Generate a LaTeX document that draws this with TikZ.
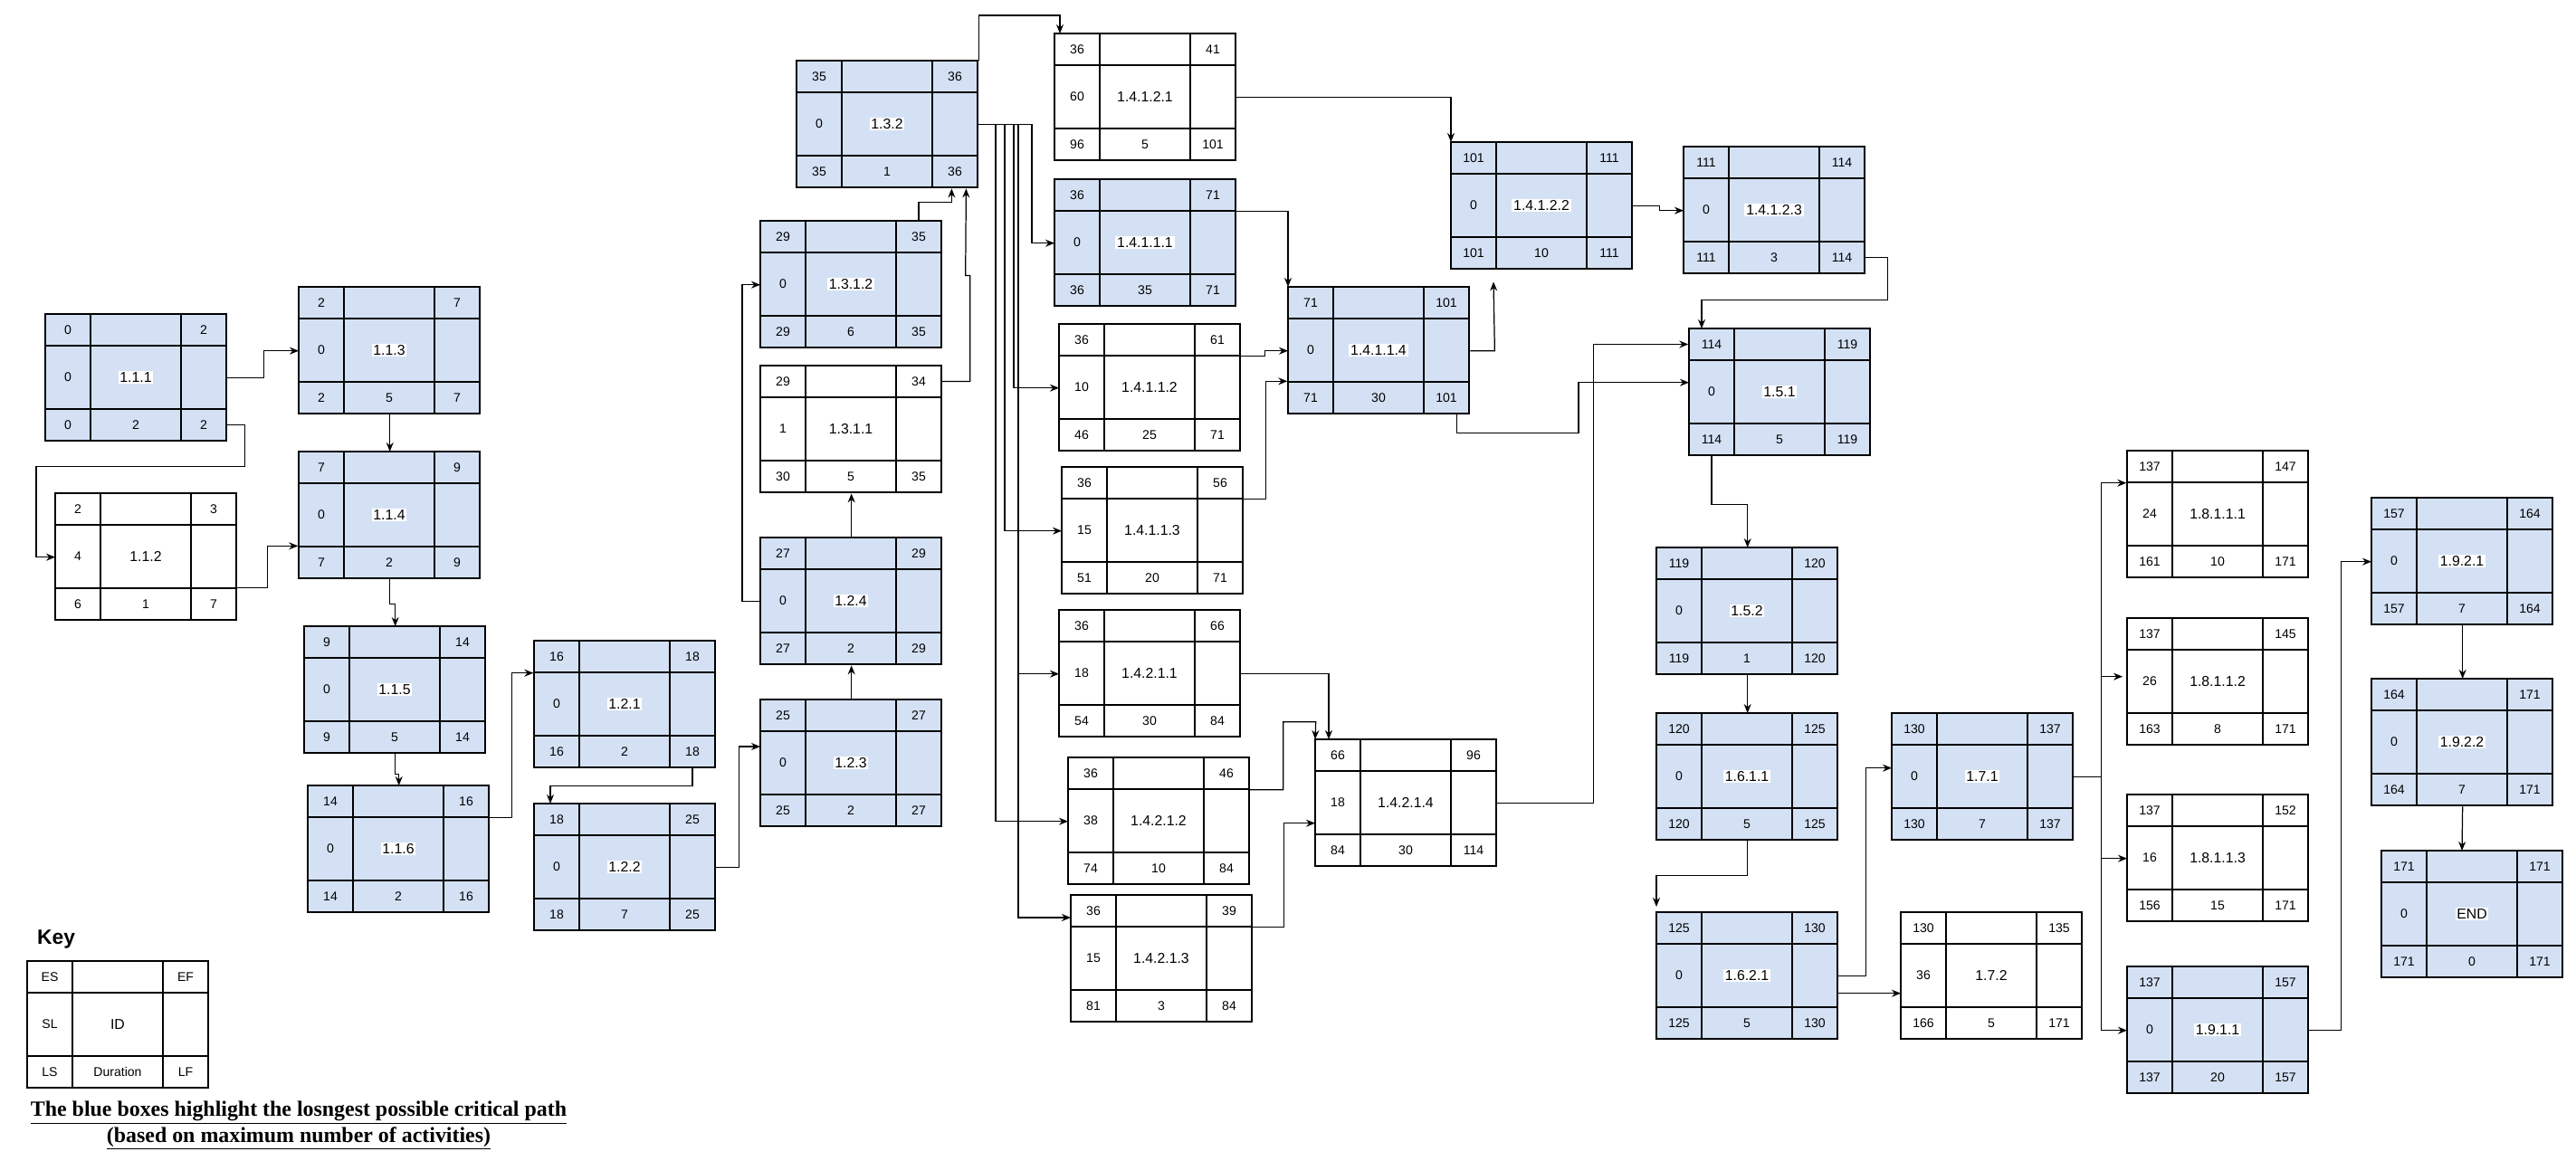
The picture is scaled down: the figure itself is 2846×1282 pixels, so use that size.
\documentclass[tikz,border=0pt]{standalone}
\usepackage{fontspec}
\setmainfont{Liberation Sans}
\newfontfamily\capfont{Liberation Serif}
\usepackage{tikz}
\usetikzlibrary{positioning,arrows.meta,calc}
\usepackage{xcolor}
\definecolor{blueFill}{RGB}{212,225,245}

\begin{document}
\begin{tikzpicture}[x=0.02cm,y=-0.02cm,>={Stealth[length=2mm,width=1.6mm]},
  actbox/.style={draw,line width=0.8pt,minimum width=4cm,minimum height=2.8cm,anchor=north west,inner sep=0pt},
  cellS/.style={draw,line width=0.8pt,minimum width=1cm,minimum height=0.7cm,inner sep=0pt,font=\fontsize{8}{9}\selectfont},
  cellW/.style={cellS,minimum width=2cm},
  cellT/.style={cellS,minimum height=1.4cm},
  cellC/.style={cellS,minimum width=2cm,minimum height=1.4cm},
  idlbl/.style={fill=white,inner sep=1pt,font=\fontsize{9}{10}\selectfont},
  conn/.style={->,line width=0.7pt}]
\useasboundingbox (0,0) rectangle (2846,1282);
\foreach \nm/\px/\py/\fc/\vES/\vEF/\vSL/\vID/\vLS/\vDU/\vLF in {
  b111/50/347/blueFill/0/2/0/1.1.1/0/2/2,
  b112/61/545/white/2/3/4/1.1.2/6/1/7,
  b113/330/317/blueFill/2/7/0/1.1.3/2/5/7,
  b114/330/499/blueFill/7/9/0/1.1.4/7/2/9,
  b115/336/692/blueFill/9/14/0/1.1.5/9/5/14,
  b116/340/868/blueFill/14/16/0/1.1.6/14/2/16,
  b121/590/708/blueFill/16/18/0/1.2.1/16/2/18,
  b122/590/888/blueFill/18/25/0/1.2.2/18/7/25,
  b123/840/773/blueFill/25/27/0/1.2.3/25/2/27,
  b124/840/594/blueFill/27/29/0/1.2.4/27/2/29,
  b1311/840/404/white/29/34/1/1.3.1.1/30/5/35,
  b1312/840/244/blueFill/29/35/0/1.3.1.2/29/6/35,
  b132/880/67/blueFill/35/36/0/1.3.2/35/1/36,
  b14121/1165/37/white/36/41/60/1.4.1.2.1/96/5/101,
  b14111/1165/198/blueFill/36/71/0/1.4.1.1.1/36/35/71,
  b14112/1170/358/white/36/61/10/1.4.1.1.2/46/25/71,
  b14113/1173/516/white/36/56/15/1.4.1.1.3/51/20/71,
  b14211/1170/674/white/36/66/18/1.4.2.1.1/54/30/84,
  b14212/1180/837/white/36/46/38/1.4.2.1.2/74/10/84,
  b14213/1183/989/white/36/39/15/1.4.2.1.3/81/3/84,
  b14114/1423/317/blueFill/71/101/0/1.4.1.1.4/71/30/101,
  b14214/1453/817/white/66/96/18/1.4.2.1.4/84/30/114,
  b14122/1603/157/blueFill/101/111/0/1.4.1.2.2/101/10/111,
  b14123/1860/162/blueFill/111/114/0/1.4.1.2.3/111/3/114,
  b151/1866/363/blueFill/114/119/0/1.5.1/114/5/119,
  b152/1830/605/blueFill/119/120/0/1.5.2/119/1/120,
  b1611/1830/788/blueFill/120/125/0/1.6.1.1/120/5/125,
  b1621/1830/1008/blueFill/125/130/0/1.6.2.1/125/5/130,
  b171/2090/788/blueFill/130/137/0/1.7.1/130/7/137,
  b172/2100/1008/white/130/135/36/1.7.2/166/5/171,
  b18111/2350/498/white/137/147/24/1.8.1.1.1/161/10/171,
  b18112/2350/683/white/137/145/26/1.8.1.1.2/163/8/171,
  b18113/2350/878/white/137/152/16/1.8.1.1.3/156/15/171,
  b1911/2350/1068/blueFill/137/157/0/1.9.1.1/137/20/157,
  b1921/2620/550/blueFill/157/164/0/1.9.2.1/157/7/164,
  b1922/2620/750/blueFill/164/171/0/1.9.2.2/164/7/171,
  bfin/2631/940/blueFill/171/171/0/END/171/0/171,
  bkey/30/1062/white/ES/EF/SL/ID/LS/Duration/LF}
{
  \node[actbox,fill=\fc] (\nm) at (\px,\py) {};
  \node[cellS] (\nm-es) at (\px+25,\py+17.5) {\vES};
  \node[cellW] (\nm-tm) at (\px+100,\py+17.5) {};
  \node[cellS] (\nm-ef) at (\px+175,\py+17.5) {\vEF};
  \node[cellT] (\nm-sl) at (\px+25,\py+70) {\vSL};
  \node[cellC] (\nm-id) at (\px+100,\py+70) {};
  \node[cellT] (\nm-rm) at (\px+175,\py+70) {};
  \node[cellS] (\nm-ls) at (\px+25,\py+122.5) {\vLS};
  \node[cellW] (\nm-du) at (\px+100,\py+122.5) {\vDU};
  \node[cellS] (\nm-lf) at (\px+175,\py+122.5) {\vLF};
  \node[idlbl] (\nm-lbl) at (\nm-id) {\vID};
}
\node[anchor=west,font=\fontsize{13}{15}\selectfont\bfseries] (keylbl) at (35,1038) {Key};
\node[align=center,font=\capfont\fontsize{13.6}{16}\selectfont\bfseries] (caption) at (330,1244)
  {\underline{The blue boxes highlight the losngest possible critical path}\\\underline{(based on maximum number of activities)}};

\draw[conn] (b111.east) -- ++(40,0) |- (b113.west);
\draw[conn] (b111-lf.east) -- ++(20,0) -- ++(0,46) -| ($(b112.west)+(-21,0)$) -- (b112.west);
\draw[conn] (b112-lf.north east) -- ++(34,0) |- (b114-ls.north west);
\draw[conn] (b113.south) -- (b114.north);
\draw[conn] (b114.south) -- ++(0,27) -| (b115.north);
\draw[conn] (b115.south) -- ++(0,22) -| (b116.north);
\draw[conn] (b116-ef.south east) -- ++(25,0) |- (b121-es.south west);
\draw[conn] (b121-lf.south) -- ++(0,20) -| ($(b122.north west)+(18,0)$);
\draw[conn] (b122.east) -- ++(25,0) |- ($(b123.north west)+(0,52)$);
\draw[conn] (b123.north) -- (b124.south);
\draw[conn] (b124.west) -- ++(-20,0) |- (b1312.west);
\draw[conn] (b124.north) -- (b1311.south);
\draw[conn] (b1312-ef.north) -- ++(0,-20) -| ($(b132.south east)+(-30,0)$);
\draw[conn] (b1311-ef.east) -- ++(31,0) -- ++(0,-117) -- ++(-5,0) -- ($(b132.south east)+(-14,0)$);
\draw[conn] (b132.north east) -- ++(0,-50) -| ($(b14121.north west)+(6,0)$);
\draw[conn] (b132.east) -| ($(b14111.west)+(-25,0)$) -- (b14111.west);
\draw[conn] (b132.east) -| ($(b14112.west)+(-50,0)$) -- (b14112.west);
\draw[conn] (b132.east) -| ($(b14113.west)+(-63,0)$) -- (b14113.west);
\draw[conn] (b132.east) -| ($(b14211.west)+(-45,0)$) -- (b14211.west);
\draw[conn] (b132.east) -| ($(b14213.north west)+(-58,25)$) -- ($(b14213.north west)+(0,25)$);
\draw[conn] (b132.east) -| ($(b14212.west)+(-80,0)$) -- (b14212.west);
\draw[conn] (b14121.east) -| (b14122.north west);
\draw[conn] (b14111-ef.south east) -| (b14114.north west);
\draw[conn] (b14112-ef.south east) -- ++(27,0) |- (b14114.west);
\draw[conn] (b14113-ef.south east) -- ++(25,0) |- (b14114-ls.north west);
\draw[conn] (b14114.east) -- ++(27,0) -- ($(b14122.south west)+(47,13)$);
\draw[conn] ($(b14114.south east)+(-15,0)$) -- ++(0,20) -| ($(b151.west)+(-122,-11)$) -- ($(b151.west)+(0,-11)$);
\draw[conn] (b14214.east) -- ++(106,0) |- (b151-es.west);
\draw[conn] (b14211.east) -| ($(b14214.north west)+(15,0)$);
\draw[conn] (b14212-ef.south east) -- ++(37,0) |- ++(36,-75) -- (b14214.north west);
\draw[conn] (b14213-ef.south east) -- ++(35,0) |- ($(b14214.west)+(0,22)$);
\draw[conn] (b14122.east) -- ++(29,0) |- (b14123.west);
\draw[conn] (b14123-lf.east) -- ++(25,0) -- ++(0,47) -| ($(b151.north west)+(14,0)$);
\draw[conn] (b151-ls.south) -- ++(0,54) -| (b152.north);
\draw[conn] (b152.south) -- (b1611.north);
\draw[conn] (b1611.south) -- ++(0,38) -| ($(b1621.north west)+(0,-6)$);
\draw[conn] (b1621.east) -- ++(30,0) |- ($(b171.west)+(0,-10)$);
\draw[conn] ($(b1621.east)+(0,19)$) -- ($(b172.west)+(0,19)$);
\draw[line width=0.7pt] (b171.east) -- ++(30,0) coordinate (fan);
\draw[conn] (fan) |- (b18111-es.south west);
\draw[conn] (fan) |- ($(b18112.west)+(-5,-6)$);
\draw[conn] (fan) |- (b18113.west);
\draw[conn] (fan) |- (b1911.west);
\draw[conn] (b1911.east) -- ++(35,0) |- (b1921.west);
\draw[conn] (b1921.south) -- (b1922.north);
\draw[conn] (b1922.south) -- ($(bfin.north west)+(89,0)$);
\end{tikzpicture}
\end{document}
